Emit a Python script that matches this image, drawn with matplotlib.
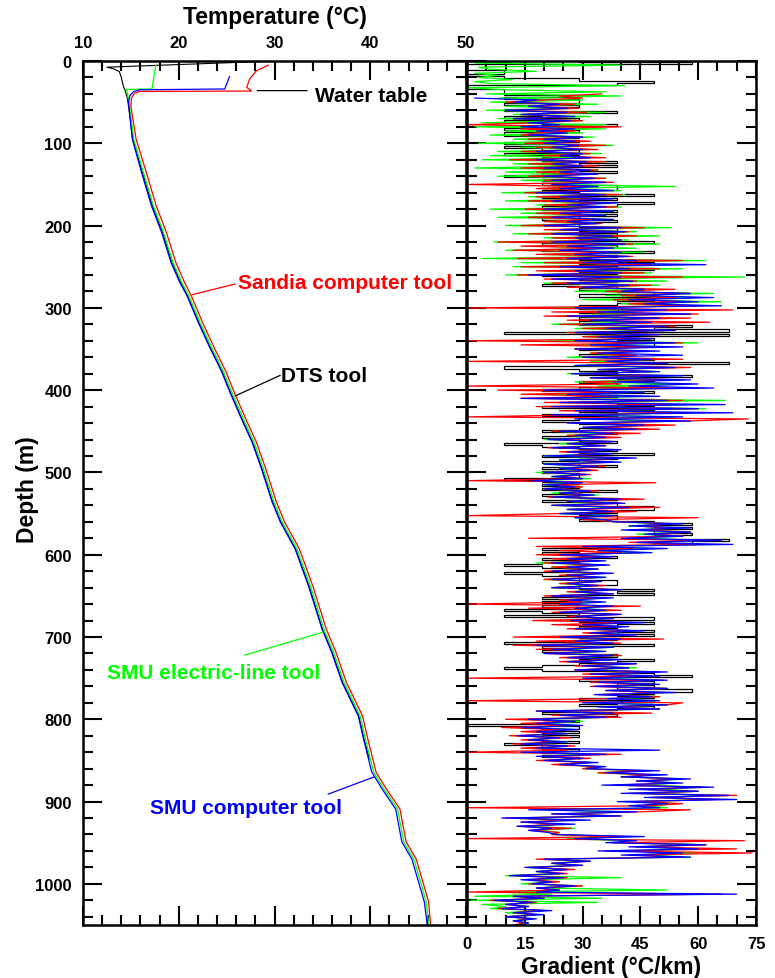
import matplotlib.pyplot as plt
import numpy as np
from matplotlib.ticker import MultipleLocator

plt.rcParams['font.family'] = ['Liberation Sans', 'DejaVu Sans']
plt.rcParams['font.weight'] = 'bold'

# ---------------------------------------------------------------
# Temperature logs: depth (m) and temperature (degC)
# ---------------------------------------------------------------
dts_depth = [0.5, 7.5, 9.5, 13, 20, 30, 36, 46, 95, 135, 176, 208, 245, 269, 285,
             318, 346, 378, 400, 435, 463, 496, 536, 560, 593, 638, 690, 718,
             755, 796, 824, 848]
dts_temp = [29.0, 12.5, 13.2, 13.8, 14.0, 14.2, 14.4, 14.65, 15.2, 16.2, 17.25, 18.3,
            19.3, 20.2, 20.9, 22.1, 23.2, 24.55, 25.3, 26.6, 27.7, 28.7, 29.8,
            30.65, 32.2, 33.6, 35.0, 36.0, 37.1, 38.8, 39.35, 39.9]

elec_depth = [5, 34, 34.5, 46, 95, 135, 176, 208, 245, 269, 285, 318, 346, 378, 400,
              435, 463, 496, 536, 560, 593, 638, 690, 718, 755, 796, 824, 864, 885,
              909, 949, 970, 998, 1022, 1050]
elec_temp = [17.6, 17.2, 14.55, 14.75, 15.3, 16.3, 17.35, 18.4, 19.4, 20.3, 21.05,
             22.25, 23.35, 24.7, 25.45, 26.75, 27.85, 28.85, 29.95, 30.8, 32.35,
             33.75, 35.15, 36.15, 37.25, 38.95, 39.5, 40.35, 41.45, 42.85, 43.5,
             44.55, 45.25, 45.85, 46.1]

comp_depth = [19, 34, 35, 37, 42, 50, 95, 135, 176, 208, 245, 269, 285, 318, 346,
              378, 400, 435, 463, 496, 536, 560, 593, 638, 690, 718, 755, 796, 824,
              864, 885, 909, 949, 970, 998, 1022, 1050]
comp_temp = [25.3, 24.8, 16.0, 15.3, 14.9, 14.75, 15.15, 16.1, 17.15, 18.2, 19.2,
             20.1, 20.85, 22.05, 23.15, 24.5, 25.25, 26.55, 27.65, 28.65, 29.75,
             30.6, 32.15, 33.55, 34.95, 35.95, 37.05, 38.75, 39.3, 40.15, 41.25,
             42.65, 43.3, 44.35, 45.05, 45.65, 45.95]

sandia_depth = [5, 12, 22, 32, 36.5, 37, 39, 45, 55, 95, 135, 176, 208, 245, 269,
                285, 318, 346, 378, 400, 435, 463, 496, 536, 560, 593, 638, 690,
                718, 755, 796, 824, 864, 885, 909, 949, 970, 998, 1022, 1050]
sandia_temp = [29.35, 28.1, 27.4, 27.1, 27.6, 16.0, 15.4, 15.05, 15.0, 15.55, 16.6,
               17.65, 18.7, 19.7, 20.6, 21.3, 22.5, 23.6, 24.95, 25.7, 27.0, 28.1,
               29.1, 30.2, 31.05, 32.6, 34.0, 35.4, 36.4, 37.5, 39.2, 39.75, 40.6,
               41.7, 43.1, 43.75, 44.8, 45.5, 46.1, 46.3]

# ---------------------------------------------------------------
# Gradient logs (degC/km), one value every 2.5 m from the start depth
# ---------------------------------------------------------------
grad_step = 2.5

elec_grad_start = 0
elec_grad = [
    17, 2, 40, 3, 6, 18, 2, 8,
    3, 12, 2, 6, 41, 0, 10, 36,
    5, 40, 8, 30, 6, 34, 10, 28,
    5, 36, 12, 32, 8, 30, 4, 36,
    2, 36, 10, 30, 6, 33, 12, 28,
    3, 38, 14, 32, 8, 35, 6, 30,
    4, 36, 12, 30, 2, 34, 10, 28,
    8, 36, 14, 32, 22, 54, 20, 40,
    9, 41, 16, 36, 10, 38, 18, 40,
    6, 38, 14, 36, 8, 36, 20, 34,
    10, 53, 22, 44, 12, 50, 20, 42,
    7, 50, 18, 44, 10, 46, 20, 40,
    4, 62, 14, 50, 12, 56, 20, 48,
    10, 72, 24, 52, 20, 50, 28, 46,
    28, 64, 36, 58, 30, 66, 40, 60,
    21, 46, 28, 44, 24, 50, 30, 42,
    22, 50, 28, 48, 26, 48, 30, 44,
    21, 60, 28, 52, 28, 46, 32, 44,
    26, 50, 32, 48, 28, 52, 34, 50,
    26, 54, 32, 50, 28, 58, 34, 52,
    14, 46, 20, 44, 18, 67, 26, 56,
    24, 62, 30, 58, 26, 54, 32, 50,
    33, 46, 36, 44, 22, 36, 26, 34,
    20, 36, 24, 34, 22, 38, 26, 36,
    20, 40, 24, 38, 20, 34, 24, 32,
    18, 30, 22, 32, 18, 28, 20, 30,
    20, 32, 22, 34, 22, 38, 26, 36,
    22, 40, 26, 38, 24, 38, 28, 36,
    38, 54, 42, 56, 42, 58, 44, 56,
    42, 62, 46, 60, 30, 48, 34, 46,
    22, 36, 26, 34, 18, 36, 22, 34,
    22, 34, 24, 36, 20, 34, 24, 32,
    22, 38, 26, 36, 22, 36, 26, 34,
    24, 36, 28, 38, 24, 38, 28, 36,
    26, 42, 30, 40, 28, 44, 32, 42,
    22, 38, 26, 36, 20, 38, 24, 36,
    24, 40, 28, 38, 28, 42, 30, 44,
    30, 48, 34, 46, 32, 50, 36, 48,
    36, 52, 38, 50, 36, 50, 40, 48,
    34, 52, 38, 50, 22, 40, 26, 36,
    16, 30, 20, 28, 14, 28, 18, 26,
    14, 24, 16, 26, 14, 26, 18, 24,
    18, 30, 20, 28, 22, 32, 24, 34,
    30, 44, 34, 46, 42, 56, 46, 54,
    45, 62, 50, 60, 46, 64, 50, 62,
    44, 54, 46, 52, 20, 40, 26, 38,
    14, 26, 16, 24, 15, 28, 18, 24,
    22, 38, 26, 40, 40, 62, 44, 58,
    42, 60, 46, 58, 20, 30, 22, 28,
    16, 26, 18, 24, 10, 40, 16, 22,
    14, 30, 18, 52, 8, 22, 2, 35,
    1, 34, 4, 10, 6, 20, 10, 18,
    10, 17, 12, 16,
    12]

sandia_grad_start = 40
sandia_grad = [
    35, 24, 30, 20, 10, 28, 16, 29,
    11, 31, 14, 26, 12, 30, 18, 0,
    40, 14, 28, 18, 14, 30, 16, 32,
    15, 36, 18, 34, 14, 32, 20, 36,
    11, 36, 16, 34, 14, 34, 18, 32,
    16, 36, 20, 38, 0, 30, 18, 34,
    15, 40, 18, 36, 16, 38, 20, 39,
    15, 35, 18, 34, 16, 33, 20, 35,
    14, 46, 20, 42, 16, 44, 22, 40,
    8, 43, 14, 38, 12, 40, 18, 43,
    13, 56, 20, 48, 14, 50, 18, 46,
    13, 56, 20, 44, 22, 48, 26, 54,
    36, 58, 40, 54, 38, 56, 42, 60,
    0, 69, 22, 60, 20, 58, 26, 63,
    24, 54, 30, 52, 26, 50, 30, 48,
    0, 56, 14, 50, 28, 46, 32, 44,
    30, 56, 0, 52, 30, 58, 34, 48,
    28, 52, 32, 56, 30, 40, 0, 60,
    8, 40, 14, 38, 14, 56, 20, 52,
    18, 60, 24, 56, 30, 0, 73, 57,
    29, 54, 32, 50, 22, 45, 26, 40,
    22, 38, 26, 36, 21, 38, 24, 36,
    25, 41, 28, 38, 22, 36, 26, 34,
    20, 32, 24, 30, 0, 49, 22, 30,
    20, 34, 24, 32, 21, 46, 26, 40,
    22, 50, 26, 44, 24, 0, 60, 30,
    40, 54, 44, 52, 46, 58, 48, 56,
    16, 64, 42, 60, 18, 43, 24, 40,
    18, 37, 22, 34, 20, 36, 22, 34,
    20, 36, 24, 34, 20, 34, 24, 36,
    22, 40, 26, 38, 20, 36, 24, 30,
    0, 45, 16, 40, 22, 40, 26, 38,
    17, 43, 22, 40, 26, 44, 30, 42,
    12, 51, 18, 40, 12, 37, 18, 34,
    20, 40, 24, 38, 24, 44, 28, 42,
    28, 50, 30, 48, 0, 51, 32, 48,
    32, 52, 36, 50, 34, 50, 36, 0,
    56, 52, 36, 50, 18, 48, 22, 40,
    10, 28, 14, 26, 9, 24, 14, 26,
    11, 27, 14, 24, 12, 28, 14, 26,
    0, 40, 20, 32, 18, 32, 22, 34,
    30, 46, 34, 48, 40, 56, 44, 54,
    38, 62, 44, 60, 42, 70, 48, 64,
    44, 56, 48, 0, 58, 45, 22, 40,
    10, 26, 14, 24, 13, 27, 16, 24,
    22, 40, 0, 72, 38, 62, 44, 70,
    36, 74, 42, 56, 18, 32, 22, 30,
    16, 28, 18, 26, 12, 26, 16, 24,
    16, 30, 18, 24, 0, 66, 12, 20,
    6, 18, 10, 16, 8, 20, 12, 18,
    10, 17, 12, 15,
    12]

comp_grad_start = 45
comp_grad = [
    2, 18,
    12, 24, 16, 26, 10, 26, 14, 28,
    12, 27, 16, 24, 14, 28, 18, 26,
    16, 30, 20, 28, 20, 29, 22, 30,
    18, 30, 24, 32, 18, 31, 22, 30,
    20, 32, 24, 34, 20, 33, 22, 36,
    22, 34, 24, 38, 18, 36, 24, 38,
    22, 39, 26, 36, 20, 38, 24, 36,
    22, 38, 26, 34, 20, 40, 24, 41,
    22, 38, 28, 40, 22, 41, 26, 38,
    24, 40, 28, 42, 26, 44, 30, 62,
    24, 42, 28, 40, 16, 40, 22, 43,
    26, 42, 30, 46, 40, 58, 44, 64,
    42, 60, 46, 66, 28, 52, 34, 58,
    26, 50, 32, 48, 30, 52, 36, 54,
    28, 50, 34, 48, 28, 54, 32, 56,
    28, 50, 34, 56, 30, 48, 36, 52,
    28, 54, 34, 50, 27, 56, 32, 58,
    38, 60, 42, 64, 20, 46, 26, 50,
    14, 52, 24, 67, 22, 60, 28, 69,
    22, 56, 28, 58, 26, 46, 30, 44,
    24, 38, 28, 36, 21, 38, 26, 36,
    22, 40, 26, 38, 20, 44, 24, 40,
    20, 34, 24, 32, 20, 31, 22, 30,
    17, 30, 20, 28, 20, 32, 24, 33,
    22, 40, 26, 41, 22, 42, 26, 38,
    24, 38, 28, 36, 38, 56, 42, 58,
    40, 58, 46, 56, 40, 66, 44, 69,
    30, 52, 34, 48, 24, 38, 26, 36,
    22, 37, 26, 34, 22, 38, 26, 36,
    22, 35, 26, 34, 22, 40, 28, 38,
    22, 38, 26, 36, 24, 38, 28, 36,
    24, 40, 28, 38, 27, 46, 30, 42,
    28, 46, 32, 44, 24, 40, 28, 38,
    18, 38, 22, 36, 20, 38, 26, 40,
    26, 44, 30, 42, 28, 52, 32, 50,
    30, 52, 34, 50, 33, 52, 36, 54,
    33, 48, 36, 50, 30, 52, 34, 50,
    18, 38, 24, 36, 16, 28, 18, 30,
    14, 29, 18, 26, 13, 24, 16, 26,
    14, 26, 18, 50, 14, 36, 18, 30,
    20, 34, 24, 36, 31, 50, 36, 52,
    40, 58, 44, 56, 35, 64, 42, 60,
    40, 68, 46, 70, 39, 52, 42, 50,
    16, 44, 22, 40, 9, 32, 14, 28,
    13, 22, 16, 21, 23, 46, 28, 44,
    36, 62, 42, 60, 34, 56, 40, 58,
    20, 32, 22, 30, 15, 26, 18, 25,
    11, 25, 14, 22, 17, 28, 18, 24,
    18, 70, 12, 20, 7, 17, 10, 16,
    9, 22, 12, 20, 10, 18, 12, 16,
    14]

# DTS gradient is quantised (0.01 degC per ~1 m)
dts_grad_start = 0
dts_grad = [
    29.1, 58.3, 0, 0, 0, 9.7, 9.7, 0,
    9.7, 29.1, 48.6, 38.9, 0, 0, 9.7, 9.7,
    9.7, 29.1, 9.7, 29.1, 29.1, 9.7, 29.1, 19.4,
    9.7, 38.9, 19.4, 9.7, 29.1, 9.7, 19.4, 38.9,
    19.4, 9.7, 29.1, 9.7, 9.7, 29.1, 19.4, 29.1,
    9.7, 29.1, 9.7, 19.4, 29.1, 9.7, 29.1, 19.4,
    19.4, 38.9, 29.1, 38.9, 19.4, 29.1, 38.9, 19.4,
    9.7, 29.1, 19.4, 29.1, 19.4, 38.9, 38.9, 19.4,
    29.1, 48.6, 19.4, 38.9, 29.1, 48.6, 38.9, 19.4,
    19.4, 38.9, 29.1, 38.9, 29.1, 19.4, 38.9, 29.1,
    29.1, 38.9, 38.9, 29.1, 38.9, 29.1, 38.9, 29.1,
    48.6, 19.4, 38.9, 29.1, 19.4, 48.6, 29.1, 38.9,
    29.1, 48.6, 38.9, 29.1, 38.9, 48.6, 29.1, 38.9,
    19.4, 38.9, 29.1, 38.9, 29.1, 19.4, 38.9, 29.1,
    38.9, 48.6, 29.1, 48.6, 38.9, 48.6, 38.9, 29.1,
    29.1, 38.9, 29.1, 38.9, 38.9, 29.1, 38.9, 29.1,
    29.1, 58.3, 48.6, 68.0, 9.7, 68.0, 38.9, 48.6,
    38.9, 48.6, 48.6, 38.9, 29.1, 38.9, 38.9, 29.1,
    38.9, 48.6, 38.9, 68.0, 38.9, 9.7, 29.1, 38.9,
    29.1, 58.3, 38.9, 48.6, 29.1, 38.9, 38.9, 29.1,
    19.4, 48.6, 29.1, 38.9, 29.1, 48.6, 38.9, 48.6,
    19.4, 48.6, 29.1, 38.9, 19.4, 38.9, 29.1, 19.4,
    29.1, 38.9, 38.9, 29.1, 19.4, 38.9, 29.1, 19.4,
    29.1, 38.9, 9.7, 19.4, 29.1, 38.9, 29.1, 48.6,
    19.4, 38.9, 29.1, 19.4, 29.1, 38.9, 19.4, 29.1,
    19.4, 29.1, 29.1, 9.7, 19.4, 29.1, 19.4, 29.1,
    19.4, 38.9, 29.1, 19.4, 29.1, 38.9, 19.4, 38.9,
    38.9, 48.6, 48.6, 38.9, 29.1, 38.9, 38.9, 29.1,
    48.6, 58.3, 48.6, 58.3, 48.6, 48.6, 58.3, 48.6,
    48.6, 68.0, 58.3, 48.6, 38.9, 19.4, 29.1, 19.4,
    29.1, 38.9, 19.4, 29.1, 19.4, 9.7, 19.4, 29.1,
    29.1, 9.7, 19.4, 29.1, 29.1, 38.9, 38.9, 29.1,
    29.1, 48.6, 38.9, 48.6, 29.1, 19.4, 29.1, 19.4,
    29.1, 19.4, 29.1, 9.7, 19.4, 29.1, 9.7, 48.6,
    29.1, 48.6, 38.9, 29.1, 38.9, 48.6, 38.9, 48.6,
    29.1, 38.9, 29.1, 9.7, 48.6, 19.4, 29.1, 19.4,
    29.1, 38.9, 29.1, 48.6, 38.9, 29.1, 19.4, 9.7,
    19.4, 38.9, 48.6, 58.3, 38.9, 29.1, 48.6, 38.9,
    48.6, 38.9, 58.3, 48.6, 38.9, 48.6, 29.1, 48.6,
    38.9, 29.1, 48.6, 38.9, 29.1, 19.4, 38.9, 29.1,
    19.4, 29.1, 19.4, 0, 29.1, 19.4, 29.1, 19.4,
    29.1, 19.4, 19.4, 29.1, 9.7, 19.4, 19.4, 29.1,
    19.4, 29.1, 19.4, 29.1]


def grad_depths(start, vals):
    return start + grad_step * np.arange(len(vals))


RED = '#ff0000'
GREEN = '#00ff00'
BLUE = '#0000ff'

fig = plt.figure(figsize=(7.75, 9.79), dpi=100)
ax1 = fig.add_axes([83 / 775, 53 / 979, 383 / 775, 864 / 979])
ax2 = fig.add_axes([467 / 775, 53 / 979, 289 / 775, 864 / 979])

# --- temperature panel ---
ax1.plot(dts_temp, dts_depth, color='black', lw=0.8)
ax1.plot(elec_temp, elec_depth, color=GREEN, lw=0.9)
ax1.plot(comp_temp, comp_depth, color=BLUE, lw=0.9)
ax1.plot(sandia_temp, sandia_depth, color=RED, lw=0.9)

# --- gradient panel ---
ax2.plot(elec_grad, grad_depths(elec_grad_start, elec_grad), color=GREEN, lw=0.9)
ax2.plot(sandia_grad, grad_depths(sandia_grad_start, sandia_grad), color=RED, lw=0.9)
d_dts = grad_depths(dts_grad_start, dts_grad)
dts_edges = np.append(d_dts - grad_step / 2, d_dts[-1] + grad_step / 2)
dts_edges[0] = 0
ax2.stairs(dts_grad, dts_edges, orientation='horizontal', baseline=None,
           color='black', lw=0.9)
ax2.plot(comp_grad, grad_depths(comp_grad_start, comp_grad), color=BLUE, lw=0.9)

# --- annotations ---
line_kw = dict(arrowstyle='-', shrinkA=0, shrinkB=0, lw=0.9)
txt_kw = dict(fontsize=15, fontweight='bold', ha='left', va='center')

ax1.annotate('', xy=(21.4, 284), xytext=(25.9, 271),
             arrowprops=dict(color=RED, **line_kw))
ax1.text(26.2, 269, 'Sandia computer tool', color=RED, **txt_kw)

ax1.annotate('', xy=(25.9, 407), xytext=(30.6, 382),
             arrowprops=dict(color='black', **line_kw))
ax1.text(30.7, 382, 'DTS tool', color='black', **txt_kw)

ax1.annotate('', xy=(28.2, 36), xytext=(33.4, 36),
             arrowprops=dict(color='black', **line_kw))
ax1.text(34.2, 42, 'Water table', color='black', **txt_kw)

ax1.annotate('', xy=(35.1, 694), xytext=(26.9, 722),
             arrowprops=dict(color=GREEN, **line_kw))
ax1.text(12.5, 743, 'SMU electric-line tool', color=GREEN, **txt_kw)

ax1.annotate('', xy=(40.4, 870), xytext=(35.6, 891),
             arrowprops=dict(color=BLUE, **line_kw))
ax1.text(17.0, 907, 'SMU computer tool', color=BLUE, **txt_kw)

# --- axes styling ---
for ax in (ax1, ax2):
    ax.set_ylim(1050, 0)
    ax.yaxis.set_major_locator(MultipleLocator(100))
    ax.yaxis.set_minor_locator(MultipleLocator(20))
    ax.tick_params(which='both', direction='in', top=True, bottom=True,
                   left=True, right=True, width=1.5, labelsize=12, pad=8)
    ax.tick_params(which='major', length=14)
    ax.tick_params(which='minor', length=7)
    for s in ax.spines.values():
        s.set_linewidth(1.8)

ax1.set_xlim(10, 50)
ax1.xaxis.set_major_locator(MultipleLocator(10))
ax1.xaxis.set_minor_locator(MultipleLocator(2))
ax1.tick_params(labeltop=True, labelbottom=False)
ax1.xaxis.set_label_position('top')
ax1.set_xlabel('Temperature (°C)', fontsize=16.5, fontweight='bold')
ax1.xaxis.label.set_va('center')
ax1.xaxis.set_label_coords(0.5, 1.052)
ax1.set_ylabel('Depth (m)', fontsize=16.5, fontweight='bold')
ax1.yaxis.label.set_va('center')
ax1.yaxis.set_label_coords(-0.144, 0.505)

ax2.set_xlim(0, 75)
ax2.xaxis.set_major_locator(MultipleLocator(15))
ax2.xaxis.set_minor_locator(MultipleLocator(5))
ax2.tick_params(labelleft=False)
ax2.set_xlabel('Gradient (°C/km)', fontsize=16.5, fontweight='bold')
ax2.xaxis.label.set_va('center')
ax2.xaxis.set_label_coords(0.5, -0.0486)

fig.savefig('out.png', dpi=100)
